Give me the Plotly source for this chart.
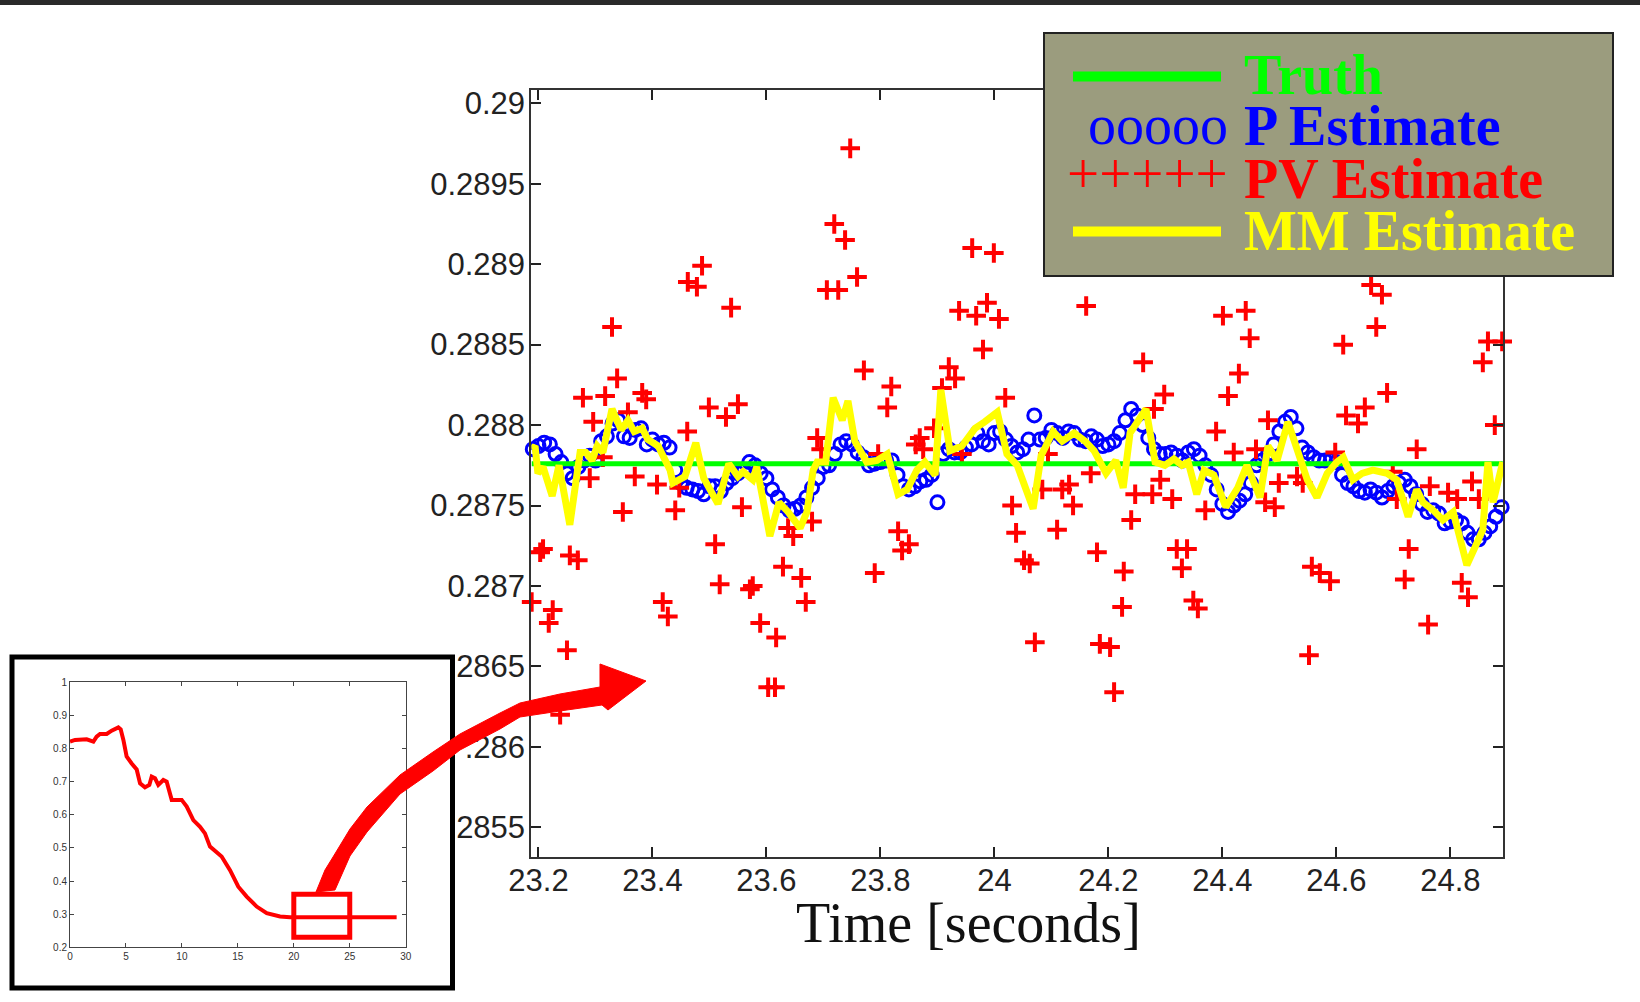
import plotly.graph_objects as go

W, H = 1640, 1002

# ---------------- data ----------------
truth_time = [23.188, 24.892]
truth_value = [0.28776, 0.28776]

p_time = [
    23.19, 23.20, 23.21, 23.22, 23.23, 23.24, 23.25, 23.26, 23.27, 23.28,
    23.29, 23.30, 23.31, 23.32, 23.33, 23.34, 23.35, 23.36, 23.37, 23.38,
    23.39, 23.40, 23.41, 23.42, 23.43, 23.44, 23.45, 23.46, 23.47, 23.48,
    23.49, 23.50, 23.51, 23.52, 23.53, 23.54, 23.55, 23.56, 23.57, 23.58,
    23.59, 23.60, 23.61, 23.62, 23.63, 23.64, 23.65, 23.66, 23.67, 23.68,
    23.69, 23.70, 23.71, 23.72, 23.73, 23.74, 23.75, 23.76, 23.77, 23.78,
    23.79, 23.80, 23.81, 23.82, 23.83, 23.84, 23.85, 23.86, 23.87, 23.88,
    23.89, 23.90, 23.91, 23.92, 23.93, 23.94, 23.95, 23.96, 23.97, 23.98,
    23.99, 24.00, 24.01, 24.02, 24.03, 24.04, 24.05, 24.06, 24.07, 24.08,
    24.09, 24.10, 24.11, 24.12, 24.13, 24.14, 24.15, 24.16, 24.17, 24.18,
    24.19, 24.20, 24.21, 24.22, 24.23, 24.24, 24.25, 24.26, 24.27, 24.28,
    24.29, 24.30, 24.31, 24.32, 24.33, 24.34, 24.35, 24.36, 24.37, 24.38,
    24.39, 24.40, 24.41, 24.42, 24.43, 24.44, 24.45, 24.46, 24.47, 24.48,
    24.49, 24.50, 24.51, 24.52, 24.53, 24.54, 24.55, 24.56, 24.57, 24.58,
    24.59, 24.60, 24.61, 24.62, 24.63, 24.64, 24.65, 24.66, 24.67, 24.68,
    24.69, 24.70, 24.71, 24.72, 24.73, 24.74, 24.75, 24.76, 24.77, 24.78,
    24.79, 24.80, 24.81, 24.82, 24.83, 24.84, 24.85, 24.86, 24.87, 24.88,
    24.89, 24.90]
p_value = [
    0.28785, 0.28787, 0.28789, 0.28788, 0.28782, 0.28777, 0.28770, 0.28767, 0.28774, 0.28778,
    0.28781, 0.28778, 0.28790, 0.28793, 0.28801, 0.28803, 0.28793, 0.28792, 0.28797, 0.28798,
    0.28788, 0.28791, 0.28788, 0.28789, 0.28786, 0.28772, 0.28764, 0.28761, 0.28760, 0.28759,
    0.28757, 0.28762, 0.28762, 0.28759, 0.28764, 0.28767, 0.28770, 0.28772, 0.28777, 0.28775,
    0.28770, 0.28767, 0.28760, 0.28755, 0.28750, 0.28747, 0.28748, 0.28750, 0.28755, 0.28761,
    0.28767, 0.28774, 0.28775, 0.28782, 0.28788, 0.28790, 0.28788, 0.28783, 0.28780, 0.28775,
    0.28776, 0.28777, 0.28778, 0.28778, 0.28769, 0.28762, 0.28760, 0.28762, 0.28765, 0.28766,
    0.28769, 0.28752, 0.28782, 0.28785, 0.28783, 0.28783, 0.28786, 0.28788, 0.28795, 0.28790,
    0.28788, 0.28795, 0.28796, 0.28791, 0.28787, 0.28783, 0.28785, 0.28791, 0.28806, 0.28791,
    0.28792, 0.28797, 0.28795, 0.28792, 0.28796, 0.28795, 0.28791, 0.28790, 0.28793, 0.28791,
    0.28787, 0.28788, 0.28790, 0.28795, 0.28803, 0.28810, 0.28806, 0.28800, 0.28792, 0.28785,
    0.28782, 0.28782, 0.28783, 0.28781, 0.28778, 0.28783, 0.28785, 0.28781, 0.28775, 0.28769,
    0.28760, 0.28751, 0.28746, 0.28750, 0.28753, 0.28757, 0.28764, 0.28775, 0.28778, 0.28782,
    0.28788, 0.28796, 0.28802, 0.28805, 0.28798, 0.28786, 0.28783, 0.28780, 0.28778, 0.28778,
    0.28778, 0.28777, 0.28769, 0.28764, 0.28762, 0.28759, 0.28758, 0.28760, 0.28758, 0.28755,
    0.28759, 0.28762, 0.28764, 0.28766, 0.28762, 0.28757, 0.28751, 0.28746, 0.28747, 0.28745,
    0.28739, 0.28740, 0.28741, 0.28739, 0.28733, 0.28729, 0.28729, 0.28733, 0.28737, 0.28743,
    0.28749, 0.28756]

pv_time = [
    23.188, 23.203, 23.208, 23.218, 23.225, 23.238, 23.250, 23.255, 23.269, 23.278,
    23.290, 23.296, 23.313, 23.317, 23.329, 23.338, 23.348, 23.357, 23.369, 23.382,
    23.389, 23.408, 23.418, 23.427, 23.440, 23.447, 23.461, 23.462, 23.478, 23.487,
    23.499, 23.510, 23.518, 23.529, 23.538, 23.550, 23.557, 23.571, 23.576, 23.589,
    23.603, 23.615, 23.617, 23.629, 23.638, 23.647, 23.661, 23.669, 23.680, 23.689,
    23.696, 23.706, 23.719, 23.726, 23.738, 23.747, 23.759, 23.771, 23.790, 23.796,
    23.812, 23.819, 23.831, 23.838, 23.850, 23.862, 23.869, 23.875, 23.894, 23.908,
    23.920, 23.931, 23.938, 23.943, 23.961, 23.968, 23.980, 23.987, 23.999, 24.008,
    24.019, 24.031, 24.038, 24.052, 24.062, 24.071, 24.084, 24.094, 24.110, 24.119,
    24.131, 24.138, 24.161, 24.169, 24.180, 24.185, 24.203, 24.210, 24.224, 24.227,
    24.240, 24.247, 24.261, 24.277, 24.280, 24.291, 24.298, 24.312, 24.320, 24.338,
    24.329, 24.349, 24.357, 24.370, 24.389, 24.401, 24.410, 24.420, 24.429, 24.441,
    24.448, 24.459, 24.480, 24.475, 24.492, 24.499, 24.531, 24.541, 24.552, 24.557,
    24.571, 24.589, 24.598, 24.612, 24.617, 24.638, 24.650, 24.661, 24.670, 24.680,
    24.689, 24.699, 24.706, 24.720, 24.727, 24.741, 24.761, 24.764, 24.796, 24.812,
    24.820, 24.831, 24.838, 24.850, 24.857, 24.866, 24.878, 24.891, 24.898]
pv_value = [
    0.28690, 0.28721, 0.28723, 0.28677, 0.28685, 0.28620, 0.28660, 0.28719, 0.28716, 0.28817,
    0.28767, 0.28802, 0.28780, 0.28818, 0.28861, 0.28829, 0.28746, 0.28808, 0.28768, 0.28820,
    0.28816, 0.28763, 0.28690, 0.28681, 0.28747, 0.28761, 0.28796, 0.28889, 0.28886, 0.28899,
    0.28811, 0.28726, 0.28701, 0.28805, 0.28873, 0.28813, 0.28749, 0.28698, 0.28700, 0.28677,
    0.28637, 0.28637, 0.28668, 0.28712, 0.28736, 0.28731, 0.28705, 0.28690, 0.28740, 0.28792,
    0.28785, 0.28884, 0.28925, 0.28884, 0.28915, 0.28972, 0.28892, 0.28834, 0.28708, 0.28782,
    0.28811, 0.28824, 0.28734, 0.28722, 0.28726, 0.28788, 0.28792, 0.28785, 0.28798, 0.28823,
    0.28836, 0.28829, 0.28871, 0.28782, 0.28910, 0.28868, 0.28847, 0.28876, 0.28907, 0.28866,
    0.28817, 0.28750, 0.28733, 0.28716, 0.28714, 0.28665, 0.28760, 0.28782, 0.28735, 0.28760,
    0.28763, 0.28750, 0.28874, 0.28770, 0.28721, 0.28664, 0.28662, 0.28634, 0.28687, 0.28709,
    0.28741, 0.28757, 0.28839, 0.28757, 0.28810, 0.28766, 0.28819, 0.28754, 0.28723, 0.28723,
    0.28711, 0.28691, 0.28686, 0.28747, 0.28796, 0.28868, 0.28818, 0.28783, 0.28832, 0.28871,
    0.28854, 0.28785, 0.28803, 0.28752, 0.28749, 0.28764, 0.28768, 0.28764, 0.28657, 0.28712,
    0.28708, 0.28703, 0.28783, 0.28850, 0.28806, 0.28801, 0.28811, 0.28887, 0.28861, 0.28881,
    0.28820, 0.28771, 0.28754, 0.28704, 0.28723, 0.28785, 0.28676, 0.28762, 0.28758, 0.28754,
    0.28702, 0.28693, 0.28765, 0.28754, 0.28839, 0.28852, 0.28800, 0.28852, 0.28836]

mm_time = [
    23.188, 23.194, 23.199, 23.208, 23.224, 23.236, 23.255, 23.273, 23.283, 23.294,
    23.303, 23.313, 23.329, 23.345, 23.357, 23.368, 23.382, 23.392, 23.410, 23.431,
    23.436, 23.457, 23.476, 23.490, 23.515, 23.534, 23.550, 23.559, 23.576, 23.583,
    23.606, 23.622, 23.638, 23.659, 23.671, 23.682, 23.689, 23.704, 23.717, 23.733,
    23.743, 23.755, 23.776, 23.794, 23.812, 23.831, 23.847, 23.864, 23.878, 23.896,
    23.906, 23.922, 23.943, 23.966, 23.983, 24.005, 24.022, 24.040, 24.068, 24.082,
    24.103, 24.119, 24.140, 24.159, 24.175, 24.196, 24.213, 24.226, 24.238, 24.266,
    24.282, 24.299, 24.315, 24.329, 24.340, 24.355, 24.368, 24.385, 24.406, 24.427,
    24.443, 24.466, 24.480, 24.496, 24.515, 24.533, 24.549, 24.566, 24.584, 24.601,
    24.612, 24.629, 24.645, 24.664, 24.689, 24.706, 24.726, 24.741, 24.752, 24.770,
    24.787, 24.805, 24.829, 24.847, 24.857, 24.866, 24.875, 24.892]
mm_value = [
    0.28785, 0.28787, 0.28770, 0.28774, 0.28756, 0.28775, 0.28738, 0.28783, 0.28783, 0.28778,
    0.28787, 0.28783, 0.28810, 0.28797, 0.28803, 0.28796, 0.28798, 0.28791, 0.28787, 0.28772,
    0.28764, 0.28768, 0.28789, 0.28767, 0.28751, 0.28776, 0.28768, 0.28771, 0.28766, 0.28774,
    0.28731, 0.28752, 0.28746, 0.28736, 0.28746, 0.28772, 0.28777, 0.28777, 0.28817, 0.28803,
    0.28815, 0.28790, 0.28777, 0.28778, 0.28782, 0.28757, 0.28760, 0.28772, 0.28777, 0.28769,
    0.28822, 0.28784, 0.28787, 0.28798, 0.28802, 0.28808, 0.28782, 0.28775, 0.28748, 0.28781,
    0.28796, 0.28790, 0.28795, 0.28790, 0.28784, 0.28770, 0.28778, 0.28761, 0.28795, 0.28810,
    0.28777, 0.28775, 0.28779, 0.28775, 0.28777, 0.28757, 0.28772, 0.28769, 0.28749, 0.28761,
    0.28775, 0.28755, 0.28787, 0.28778, 0.28802, 0.28783, 0.28766, 0.28755, 0.28770, 0.28777,
    0.28780, 0.28766, 0.28770, 0.28772, 0.28770, 0.28766, 0.28743, 0.28760, 0.28752, 0.28747,
    0.28741, 0.28746, 0.28713, 0.28727, 0.28735, 0.28777, 0.28752, 0.28777]

inset_time = [0.0, 0.45, 1.49, 2.09, 2.38, 2.68, 3.28, 3.72, 4.32, 4.53, 4.77, 5.06, 5.51,
              5.96, 6.26, 6.70, 7.09, 7.30, 7.60, 7.89, 8.34, 8.64, 9.09, 9.98, 10.43,
              11.02, 11.62, 12.06, 12.51, 13.55, 14.30, 15.04, 15.79, 16.68, 17.58,
              18.77, 19.66, 29.19]
inset_value = [0.821, 0.826, 0.828, 0.821, 0.836, 0.844, 0.844, 0.854, 0.864, 0.858, 0.826,
               0.776, 0.755, 0.737, 0.695, 0.683, 0.690, 0.715, 0.710, 0.690, 0.705, 0.700,
               0.645, 0.645, 0.625, 0.584, 0.564, 0.544, 0.504, 0.474, 0.433, 0.383, 0.353,
               0.323, 0.303, 0.293, 0.291, 0.291]
zoom_box_time = [20, 25]
zoom_box_value = [0.23, 0.36]

x_ticks = [23.2, 23.4, 23.6, 23.8, 24.0, 24.2, 24.4, 24.6, 24.8]
x_labels = ["23.2", "23.4", "23.6", "23.8", "24", "24.2", "24.4", "24.6", "24.8"]
y_ticks = [0.2855, 0.286, 0.2865, 0.287, 0.2875, 0.288, 0.2885, 0.289, 0.2895, 0.29]
# the leftmost characters of the lowest labels are hidden behind the inset frame
y_labels = ["2855", ".286", "2865", "0.287", "0.2875", "0.288", "0.2885", "0.289", "0.2895", "0.29"]

legend_names = ["Truth", "P Estimate", "PV Estimate", "MM Estimate"]
legend_colors = ["#00ff00", "#0000ff", "#ff0000", "#ffff00"]


def px(x):
    return x / W


def py(y):
    return 1 - y / H


fig = go.Figure()

fig.add_trace(go.Scatter(
    x=p_time, y=p_value, mode="markers", cliponaxis=False, showlegend=False,
    marker=dict(symbol="circle-open", size=13, color="#0000ff",
                line=dict(width=3, color="#0000ff"))))
fig.add_trace(go.Scatter(
    x=pv_time, y=pv_value, mode="markers", cliponaxis=False, showlegend=False,
    marker=dict(symbol="cross-thin", size=14, color="#ff0000",
                line=dict(width=4, color="#ff0000"))))
fig.add_trace(go.Scatter(
    x=truth_time, y=truth_value, mode="lines", showlegend=False,
    line=dict(color="#00ff00", width=5)))
fig.add_trace(go.Scatter(
    x=mm_time, y=mm_value, mode="lines", showlegend=False,
    line=dict(color="#ffff00", width=7)))

fig.add_trace(go.Scatter(
    x=inset_time, y=inset_value, mode="lines", showlegend=False,
    xaxis="x2", yaxis="y2", line=dict(color="#ff0000", width=4)))

axis_font = dict(family="Liberation Sans, Arial, sans-serif", size=31, color="#222222")

fig.update_layout(
    width=W, height=H, autosize=False,
    margin=dict(l=0, r=0, t=0, b=0, pad=0, autoexpand=False),
    paper_bgcolor="white", plot_bgcolor="white",
    showlegend=False,
    xaxis=dict(domain=[px(531.3), px(1503)], range=[23.1874, 24.8924],
               tickvals=x_ticks, ticktext=x_labels, ticks="inside", ticklen=10,
               tickwidth=2, tickcolor="#222222", showline=True, linecolor="#333333",
               linewidth=2, mirror="ticks", showgrid=False, zeroline=False,
               tickfont=axis_font, anchor="y", automargin=False, ticklabelstandoff=-6),
    yaxis=dict(domain=[py(857.3), py(90)], range=[0.2853135, 0.2900827],
               tickvals=y_ticks, ticktext=y_labels, ticks="inside", ticklen=10,
               tickwidth=2, tickcolor="#222222", showline=True, linecolor="#333333",
               linewidth=2, mirror="ticks", showgrid=False, zeroline=False,
               tickfont=axis_font, anchor="x", automargin=False, ticklabelstandoff=-2),
    xaxis2=dict(domain=[px(70), px(405.7)], range=[0, 30], dtick=5, tick0=0,
                ticks="inside", ticklen=4, tickwidth=1, tickcolor="#444444",
                showline=True, linecolor="#444444", linewidth=1, mirror="ticks",
                showgrid=False, zeroline=False, anchor="y2", automargin=False,
                tickfont=dict(family="Liberation Sans, Arial", size=10, color="#333333")),
    yaxis2=dict(domain=[py(947.3), py(682.3)], range=[0.2, 1], dtick=0.1, tick0=0.2,
                ticks="inside", ticklen=4, tickwidth=1, tickcolor="#444444",
                showline=True, linecolor="#444444", linewidth=1, mirror="ticks",
                showgrid=False, zeroline=False, anchor="x2", automargin=False,
                tickfont=dict(family="Liberation Sans, Arial", size=10, color="#333333")),
)

shapes = []
# dark band along the top edge
shapes.append(dict(type="rect", xref="paper", yref="paper", x0=0, x1=1,
                   y0=py(5), y1=1, fillcolor="#2a2a2a", line=dict(width=0), layer="above"))
# inset frame
shapes.append(dict(type="rect", xref="paper", yref="paper", x0=px(12), x1=px(452.5),
                   y0=py(988), y1=py(657), line=dict(color="black", width=5),
                   fillcolor="rgba(0,0,0,0)", layer="below"))
# zoom window on the inset curve
shapes.append(dict(type="rect", xref="x2", yref="y2",
                   x0=zoom_box_time[0], x1=zoom_box_time[1],
                   y0=zoom_box_value[0], y1=zoom_box_value[1],
                   line=dict(color="#ff0000", width=5), layer="above"))
# curved arrow from the zoom window to the main plot
arrow_pts = [(316, 892), (325, 870), (333, 857), (350, 829), (367, 807), (400, 775),
             (433, 752), (460, 734), (500, 713), (520, 703), (560, 694), (600, 687),
             (600, 664), (646, 681), (608, 710), (602, 705), (560, 711), (520, 717),
             (500, 729), (460, 750), (433, 771), (400, 794), (367, 832), (350, 856),
             (335, 890)]
path = "M " + " L ".join(f"{px(a):.5f},{py(b):.5f}" for a, b in arrow_pts) + " Z"
shapes.append(dict(type="path", xref="paper", yref="paper", path=path,
                   fillcolor="#ff0000", line=dict(color="#ff0000", width=1), layer="above"))
# legend box
shapes.append(dict(type="rect", xref="paper", yref="paper", x0=px(1044), x1=px(1613),
                   y0=py(276), y1=py(33), fillcolor="#9b9c7e",
                   line=dict(color="#222222", width=2), layer="above"))
shapes.append(dict(type="line", xref="paper", yref="paper", x0=px(1073), x1=px(1221),
                   y0=py(76.5), y1=py(76.5), line=dict(color="#00ff00", width=10), layer="above"))
shapes.append(dict(type="line", xref="paper", yref="paper", x0=px(1073), x1=px(1221),
                   y0=py(231.5), y1=py(231.5), line=dict(color="#ffff00", width=10), layer="above"))

serif = "Liberation Serif, Times New Roman, serif"
annotations = []
label_centers = [75, 126, 178.5, 231]
for name, col, yc in zip(legend_names, legend_colors, label_centers):
    annotations.append(dict(xref="paper", yref="paper", x=px(1242), y=py(yc),
                            xanchor="left", yanchor="middle", showarrow=False, text=name,
                            height=50, valign="middle",
                            font=dict(family=serif, size=56, color=col, weight="bold")))
annotations.append(dict(xref="paper", yref="paper", x=px(1230), y=py(124.5),
                        xanchor="right", yanchor="middle", showarrow=False, text="ooooo",
                        height=50, valign="middle",
                        font=dict(family=serif, size=56, color="#0000ff")))
annotations.append(dict(xref="paper", yref="paper", x=px(1230), y=py(173),
                        xanchor="right", yanchor="middle", showarrow=False, text="+++++",
                        height=50, valign="middle",
                        font=dict(family=serif, size=57, color="#ff0000")))
annotations.append(dict(xref="paper", yref="paper", x=px(968), y=py(923),
                        xanchor="center", yanchor="middle", showarrow=False,
                        text="Time [seconds]",
                        font=dict(family=serif, size=56, color="#111111")))

fig.update_layout(shapes=shapes, annotations=annotations)
fig.write_html(
    "out.html",
    config={"displayModeBar": False},
    post_script="document.body.style.margin='0';document.body.style.padding='0';"
                "document.body.style.overflow='hidden';"
                "document.documentElement.style.overflow='hidden';")
